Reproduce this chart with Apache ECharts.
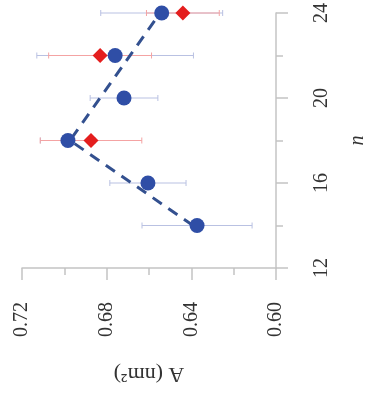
<!DOCTYPE html>
<html>
<head>
<meta charset="utf-8">
<script src="https://cdn.jsdelivr.net/npm/echarts@6/dist/echarts.min.js"></script>
<style>
  html, body { margin: 0; padding: 0; background: #fff; }
  #chart { width: 370px; height: 398px; }
</style>
</head>
<body>
<div id="chart"></div>
<script>
// chart is drawn turned a quarter: A (nm²) runs along the bottom, n up the right side
var nValues = [14, 16, 18, 20, 22, 24];
var blueA = [0.6373, 0.6605, 0.6983, 0.6718, 0.676, 0.654];
var blueErr = [0.026, 0.018, 0.013, 0.016, 0.037, 0.0288];
var redN = [18, 22, 24];
var redA = [0.6874, 0.6831, 0.644];
var redErr = [0.024, 0.0243, 0.0172];
var fitN = [14, 18, 24];
var fitA = [0.6392, 0.6973, 0.6548];

var serif = "Liberation Serif";

function errBars(ns, as, errs) {
  return ns.map(function (n, i) {
    return [as[i], n, errs[i]];
  });
}

function renderErr(color) {
  return function (params, api) {
    var a = api.value(0), n = api.value(1), e = api.value(2);
    var p1 = api.coord([a - e, n]);
    var p2 = api.coord([a + e, n]);
    var cap = 3;
    var st = { stroke: color, lineWidth: 1 };
    return {
      type: "group",
      children: [
        { type: "line", shape: { x1: p1[0], y1: p1[1], x2: p2[0], y2: p2[1] }, style: st },
        { type: "line", shape: { x1: p1[0], y1: p1[1] - cap, x2: p1[0], y2: p1[1] + cap }, style: st },
        { type: "line", shape: { x1: p2[0], y1: p2[1] - cap, x2: p2[0], y2: p2[1] + cap }, style: st }
      ]
    };
  };
}

var myChart = echarts.init(document.getElementById("chart"));
var option = {
  animation: false,
  grid: { left: 22, right: 94, top: 13, bottom: 130, outerBoundsMode: "none" },
  xAxis: {
    type: "value",
    min: 0.6,
    max: 0.72,
    interval: 0.04,
    inverse: true,
    position: "bottom",
    name: "A (nm²)",
    nameLocation: "middle",
    nameRotate: 180,
    nameGap: 95,
    nameTextStyle: { fontFamily: serif, fontSize: 22, color: "#333" },
    axisLine: { lineStyle: { color: "#c4c4c4", width: 1.5 } },
    axisTick: { length: 12, lineStyle: { color: "#c4c4c4", width: 1.5 } },
    minorTick: { show: true, splitNumber: 2, length: 7, lineStyle: { color: "#c4c4c4", width: 1.5 } },
    splitLine: { show: false },
    axisLabel: {
      rotate: 90,
      margin: 34,
      fontFamily: serif,
      fontSize: 20,
      color: "#333",
      formatter: function (v) { return v.toFixed(2); }
    }
  },
  yAxis: {
    type: "value",
    min: 12,
    max: 24,
    interval: 4,
    position: "right",
    name: "n",
    nameLocation: "middle",
    nameRotate: 90,
    nameGap: 72,
    nameTextStyle: { fontFamily: serif, fontSize: 20, fontStyle: "italic", color: "#333" },
    axisLine: { show: true, lineStyle: { color: "#c4c4c4", width: 1.5 } },
    axisTick: { show: true, length: 12, lineStyle: { color: "#c4c4c4", width: 1.5 } },
    minorTick: { show: true, splitNumber: 2, length: 7, lineStyle: { color: "#c4c4c4", width: 1.5 } },
    splitLine: { show: false },
    axisLabel: {
      rotate: 90,
      margin: 36,
      fontFamily: serif,
      fontSize: 20,
      color: "#333"
    }
  },
  series: [
    {
      type: "custom",
      renderItem: renderErr("#b9c1e2"),
      data: errBars(nValues, blueA, blueErr),
      z: 1
    },
    {
      type: "custom",
      renderItem: renderErr("#f4a3a3"),
      data: errBars(redN, redA, redErr),
      z: 2
    },
    {
      type: "line",
      data: fitN.map(function (n, i) { return [fitA[i], n]; }),
      symbol: "none",
      lineStyle: { color: "#33508f", width: 3, type: [11, 8] },
      z: 3
    },
    {
      type: "scatter",
      data: redN.map(function (n, i) { return [redA[i], n]; }),
      symbol: "diamond",
      symbolSize: [15, 15],
      itemStyle: { color: "#e41e1e", opacity: 1 },
      z: 4
    },
    {
      type: "scatter",
      data: nValues.map(function (n, i) { return [blueA[i], n]; }),
      symbol: "circle",
      symbolSize: 15,
      itemStyle: { color: "#2f4ea6", opacity: 1 },
      z: 5
    }
  ]
};
myChart.setOption(option);
</script>
</body>
</html>
